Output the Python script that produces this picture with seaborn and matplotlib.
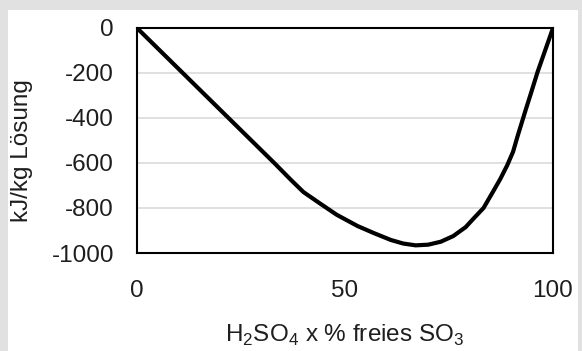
import matplotlib
matplotlib.use("Agg")
import matplotlib.pyplot as plt
import seaborn as sns
import pandas as pd
from matplotlib.patches import Rectangle

# Data
x_percent = [0, 11, 22, 33, 37, 40, 44, 48, 53, 57, 61, 64, 67, 70, 73, 76, 79, 81,
             83.3, 85.5, 87.3, 89, 90.4, 91.5, 92.5, 93.5, 94.7, 96.3, 98.2, 100]
enthalpy = [0, -200, -400, -600, -675, -729, -780, -830, -880, -912, -942, -958, -966, -963,
            -950, -925, -885, -845, -800, -730, -672, -610, -550, -480, -420, -360, -290,
            -195, -95, 0]
x_ticks = [0, 50, 100]
y_ticks = [0, -200, -400, -600, -800, -1000]

df = pd.DataFrame({"x": x_percent, "y": enthalpy})

sns.set_style("white")
plt.rcParams["font.family"] = ["Liberation Sans", "DejaVu Sans"]

fig = plt.figure(figsize=(5.82, 3.51), dpi=100)
fig.patch.set_facecolor("#e1e1e1")
fig.patches.append(Rectangle((8 / 582, 0), 570 / 582, 1 - 10 / 351,
                             transform=fig.transFigure, facecolor="white",
                             edgecolor="none", zorder=-10))

ax = fig.add_axes([137 / 582, 1 - 253 / 351, 416 / 582, 225 / 351])
ax.set_zorder(1)
ax.set_facecolor("white")

sns.lineplot(data=df, x="x", y="y", ax=ax, color="black", linewidth=3.0,
             sort=False, zorder=3)

ax.set_xlim(0, 100)
ax.set_ylim(-1000, 0)
ax.set_xticks(x_ticks)
ax.set_yticks(y_ticks)
ax.set_xticklabels([str(v) for v in x_ticks])
ax.set_yticklabels([str(v) for v in y_ticks])

ax.yaxis.grid(True, color="#dadada", linewidth=1.2)
ax.xaxis.grid(False)

for s in ax.spines.values():
    s.set_visible(True)
    s.set_color("black")
    s.set_linewidth(1.5)
    s.set_zorder(4)

ax.tick_params(axis="both", which="major", direction="out", length=6,
               width=1.0, color="#b8b8b8", labelsize=17.5, labelcolor="#1e1e1e")
ax.tick_params(axis="y", pad=10.5)
ax.tick_params(axis="x", pad=13.5)

ax.set_xlabel("H$_\\mathregular{2}$SO$_\\mathregular{4}$ x % freies SO$_\\mathregular{3}$",
              fontsize=17.5, color="#1e1e1e")
ax.set_ylabel("kJ/kg Lösung", fontsize=17.5, color="#1e1e1e")
ax.xaxis.set_label_coords(0.5, -0.31)
ax.yaxis.set_label_coords(-0.25, 0.455)

fig.savefig("out.png", dpi=100, facecolor=fig.get_facecolor())
